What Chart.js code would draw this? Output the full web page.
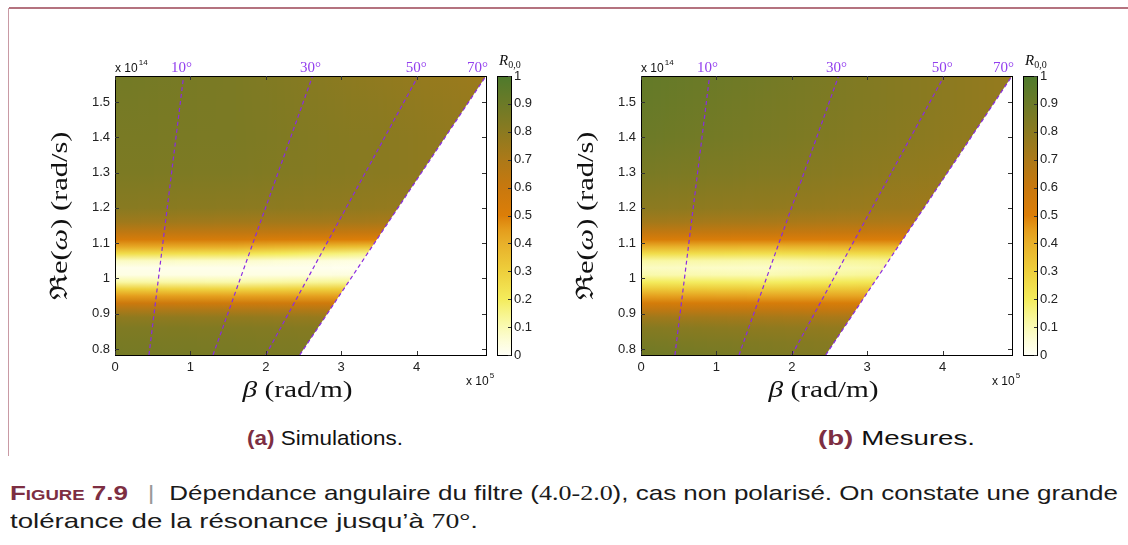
<!DOCTYPE html>
<html>
<head>
<meta charset="utf-8">
<script src="https://cdn.jsdelivr.net/npm/chart.js@4.4.1/dist/chart.umd.min.js"></script>
<style>
  body { margin: 0; background: #fff; width: 1128px; height: 545px; position: relative; overflow: hidden;
         font-family: 'Liberation Sans', Arial, sans-serif; }
  #frameTop { position: absolute; left: 9px; top: 7px; width: 1119px; height: 2px; background: #b4737f; }
  #frameLeft { position: absolute; left: 8px; top: 8px; width: 1px; height: 448px; background: #c99aa4; }
  canvas { position: absolute; top: 0; }
  #panelA { left: 0; }
  #panelB { left: 526px; }
  .sub { position: absolute; top: 427px; font-size: 21px; line-height: 21px; color: #111; white-space: nowrap; transform-origin: 0 0; }
  .sub b { color: #7d2e42; margin-right: 6px; }
  .cap { position: absolute; left: 10px; font-size: 21px; line-height: 21px; color: #1a1a1a; white-space: nowrap; transform-origin: 0 0; }
  .fig { color: #7d2e42; font-weight: bold; font-variant: small-caps; }
  .bar { color: #999; margin: 0 12px 0 16px; }
  .serif { font-family: 'Liberation Serif', 'DejaVu Serif', serif; }
</style>
</head>
<body>
<div id="frameTop"></div>
<div id="frameLeft"></div>
<canvas id="panelA" width="560" height="410"></canvas>
<canvas id="panelB" width="560" height="410"></canvas>
<div class="sub" style="left:247px" data-w="156"><b>(a)</b>Simulations.</div>
<div class="sub" style="left:818px" data-w="157"><b>(b)</b>Mesures.</div>
<div class="cap" style="top:482px" data-w="1108"><span class="fig">Figure 7.9</span><span class="bar">|</span>Dépendance angulaire du filtre (<span class="serif">4.0-2.0</span>), cas non polarisé. On constate une grande</div>
<div class="cap" style="top:510px" data-w="468">tolérance de la résonance jusqu’à <span class="serif">70°</span>.</div>
<script>
// axes
const betaMin = 0, betaMax = 4.92;       // x 10^5 rad/m
const omegaMin = 0.783, omegaMax = 1.574; // x 10^14 rad/s
const betaTicks = [0, 1, 2, 3, 4];
const omegaTicks = [0.8, 0.9, 1, 1.1, 1.2, 1.3, 1.4, 1.5];
const cbTicks = [0, 0.1, 0.2, 0.3, 0.4, 0.5, 0.6, 0.7, 0.8, 0.9, 1];

// iso-angle lines (beta at bottom and top of the plot)
const angleLabels = ['10°', '30°', '50°', '70°'];
const lineBottomBeta = [0.45, 1.30, 2.00, 2.45];
const lineTopBeta = [0.91, 2.62, 4.02, 4.92];

// R0,0 field, sampled on omegaRows (one list per beta column)
const betaCols = [0, 1.6, 3.3, 4.92];
const omegaRows = [0.783, 0.82, 0.86, 0.89, 0.91, 0.93, 0.95, 0.97, 0.99, 1.01, 1.03,
                   1.05, 1.07, 1.09, 1.11, 1.13, 1.16, 1.2, 1.3, 1.4, 1.5, 1.574];
const simField = [
  [0.87, 0.86, 0.84, 0.79, 0.70, 0.58, 0.45, 0.30, 0.12, 0.03, 0.02, 0.08, 0.25, 0.42, 0.53, 0.63, 0.74, 0.81, 0.85, 0.86, 0.87, 0.88],
  [0.86, 0.85, 0.83, 0.78, 0.69, 0.57, 0.44, 0.28, 0.11, 0.03, 0.02, 0.07, 0.23, 0.41, 0.53, 0.63, 0.73, 0.80, 0.84, 0.85, 0.85, 0.85],
  [0.84, 0.83, 0.81, 0.76, 0.68, 0.56, 0.44, 0.30, 0.14, 0.04, 0.01, 0.03, 0.15, 0.35, 0.50, 0.61, 0.72, 0.78, 0.81, 0.81, 0.80, 0.79],
  [0.82, 0.81, 0.79, 0.74, 0.66, 0.55, 0.43, 0.30, 0.15, 0.05, 0.02, 0.03, 0.14, 0.33, 0.48, 0.59, 0.69, 0.75, 0.77, 0.77, 0.76, 0.75]
];
const mesField = [
  [0.89, 0.86, 0.82, 0.74, 0.64, 0.54, 0.44, 0.32, 0.20, 0.11, 0.08, 0.12, 0.25, 0.40, 0.52, 0.62, 0.73, 0.80, 0.86, 0.90, 0.92, 0.93],
  [0.85, 0.83, 0.79, 0.72, 0.63, 0.53, 0.43, 0.31, 0.19, 0.10, 0.07, 0.11, 0.24, 0.39, 0.51, 0.61, 0.71, 0.78, 0.83, 0.86, 0.87, 0.88],
  [0.81, 0.80, 0.77, 0.70, 0.61, 0.52, 0.43, 0.33, 0.22, 0.14, 0.11, 0.14, 0.26, 0.40, 0.51, 0.60, 0.69, 0.75, 0.79, 0.81, 0.82, 0.82],
  [0.78, 0.77, 0.74, 0.68, 0.60, 0.51, 0.42, 0.33, 0.23, 0.16, 0.13, 0.15, 0.26, 0.39, 0.49, 0.58, 0.66, 0.72, 0.75, 0.77, 0.77, 0.77]
];

// colormap
const cmapVals = [0, 0.05, 0.1, 0.15, 0.2, 0.3, 0.4, 0.45, 0.5, 0.6, 0.7, 0.8, 0.9, 1];
const cmapColors = ['#fffff6', '#fdfdd8', '#fafab4', '#f7f48a', '#f4ec5c', '#eecf3c', '#e8b02a',
                    '#e49c1c', '#dc7e08', '#c8780e', '#ac7918', '#8b7a20', '#6c7a27', '#4e7a2c'];

const purple = '#8a2be2';
const sans = "'Liberation Sans', Arial, sans-serif";
const serif = "'Liberation Serif', 'DejaVu Serif', serif";

function hexRgb(h) {
  return [1, 3, 5].map(i => parseInt(h.substr(i, 2), 16));
}
const cmapRgb = cmapColors.map(hexRgb);

function cmap(v) {
  v = Math.max(0, Math.min(1, v));
  let k = 0;
  while (k < cmapVals.length - 2 && v > cmapVals[k + 1]) k++;
  const t = (v - cmapVals[k]) / (cmapVals[k + 1] - cmapVals[k]);
  const a = cmapRgb[k], b = cmapRgb[k + 1];
  return `rgb(${a.map((c, i) => Math.round(c + (b[i] - c) * t)).join(',')})`;
}

// pieces of text [str, font], centred on x and stretched to a given width
// (the original uses a wider serif face)
function fitText(ctx, parts, x, y, width) {
  let total = 0;
  const ws = parts.map(([s, f]) => { ctx.font = f; const w = ctx.measureText(s).width; total += w; return w; });
  ctx.save();
  ctx.translate(x, y);
  ctx.scale(width / total, 1);
  ctx.textAlign = 'left';
  let px = -total / 2;
  parts.forEach(([s, f], i) => { ctx.font = f; ctx.fillText(s, px, 0); px += ws[i]; });
  ctx.restore();
}

const heatPlugin = {
  id: 'heat',
  beforeDatasetsDraw(chart, args, opts) {
    const { ctx, chartArea: a, scales: { x, y } } = chart;
    const field = opts.field;
    const last = lineTopBeta.length - 1;
    ctx.save();
    ctx.beginPath();
    ctx.moveTo(x.getPixelForValue(betaMin), y.getPixelForValue(omegaMin));
    ctx.lineTo(x.getPixelForValue(lineBottomBeta[last]), y.getPixelForValue(omegaMin));
    ctx.lineTo(x.getPixelForValue(lineTopBeta[last]), y.getPixelForValue(omegaMax));
    ctx.lineTo(x.getPixelForValue(betaMin), y.getPixelForValue(omegaMax));
    ctx.closePath();
    ctx.clip();
    const y0 = y.getPixelForValue(omegaRows[0]);
    const y1 = y.getPixelForValue(omegaRows[omegaRows.length - 1]);
    for (let px = Math.floor(a.left); px < a.right; px++) {
      const b = x.getValueForPixel(px + 0.5);
      let j = 0;
      while (j < betaCols.length - 2 && b > betaCols[j + 1]) j++;
      const t = Math.max(0, Math.min(1, (b - betaCols[j]) / (betaCols[j + 1] - betaCols[j])));
      const g = ctx.createLinearGradient(0, y0, 0, y1);
      omegaRows.forEach((w, i) => {
        const v = field[j][i] * (1 - t) + field[j + 1][i] * t;
        g.addColorStop((y.getPixelForValue(w) - y0) / (y1 - y0), cmap(v));
      });
      ctx.fillStyle = g;
      ctx.fillRect(px, a.top, 1, a.bottom - a.top);
    }
    ctx.restore();
  },
  afterDraw(chart) {
    const { ctx, chartArea: a, scales: { x, y, cb } } = chart;
    ctx.save();
    // plot frame + inward ticks
    ctx.strokeStyle = '#000';
    ctx.lineWidth = 1;
    ctx.strokeRect(Math.round(a.left) + 0.5, Math.round(a.top) + 0.5, Math.round(a.right - a.left), Math.round(a.bottom - a.top));
    ctx.strokeStyle = '#333';
    ctx.beginPath();
    betaTicks.forEach(v => {
      const px = Math.round(x.getPixelForValue(v)) + 0.5;
      ctx.moveTo(px, a.bottom); ctx.lineTo(px, a.bottom - 4);
      ctx.moveTo(px, a.top); ctx.lineTo(px, a.top + 4);
    });
    omegaTicks.forEach(v => {
      const py = Math.round(y.getPixelForValue(v)) + 0.5;
      ctx.moveTo(a.left, py); ctx.lineTo(a.left + 4, py);
      ctx.moveTo(a.right, py); ctx.lineTo(a.right - 4, py);
    });
    ctx.stroke();

    // colorbar
    const cx = Math.round(a.right) + 11, cw = 14;
    const cTop = cb.getPixelForValue(1), cBot = cb.getPixelForValue(0);
    const g = ctx.createLinearGradient(0, cBot, 0, cTop);
    cmapVals.forEach((v, i) => g.addColorStop(v, cmapColors[i]));
    ctx.fillStyle = g;
    ctx.fillRect(cx, cTop, cw, cBot - cTop);
    ctx.strokeStyle = '#000';
    ctx.strokeRect(cx + 0.5, Math.round(cTop) + 0.5, cw, Math.round(cBot - cTop));
    ctx.strokeStyle = '#333';
    ctx.beginPath();
    cbTicks.forEach(v => {
      const py = Math.round(cb.getPixelForValue(v)) + 0.5;
      ctx.moveTo(cx + cw, py); ctx.lineTo(cx + cw - 3, py);
    });
    ctx.stroke();

    // colorbar title R_{0,0}
    ctx.fillStyle = '#111';
    ctx.textBaseline = 'alphabetic';
    ctx.textAlign = 'left';
    ctx.font = `italic 15px ${serif}`;
    ctx.fillText('R', cx + 2, a.top - 11);
    const rw = ctx.measureText('R').width;
    ctx.font = `10px ${serif}`;
    ctx.fillText('0,0', cx + 2 + rw, a.top - 8);

    // exponents
    ctx.font = `12px ${sans}`;
    ctx.fillText('x 10', a.left, a.top - 4);
    let w = ctx.measureText('x 10').width;
    ctx.font = `8px ${sans}`;
    ctx.fillText('14', a.left + w + 1, a.top - 11);
    ctx.font = `12px ${sans}`;
    ctx.fillText('x 10', a.right - 20, a.bottom + 30);
    w = ctx.measureText('x 10').width;
    ctx.font = `8px ${sans}`;
    ctx.fillText('5', a.right - 20 + w + 1, a.bottom + 23);

    // angle labels
    ctx.fillStyle = '#9340ee';
    ctx.font = `15px ${serif}`;
    ctx.textAlign = 'center';
    angleLabels.forEach((lab, i) => {
      const lw = ctx.measureText(lab).width;
      let px = x.getPixelForValue(lineTopBeta[i]) - 2;
      px = Math.min(px, a.right + 2 - lw / 2);
      ctx.fillText(lab, px, a.top - 4);
    });

    // axis titles
    ctx.fillStyle = '#111';
    const up = `24px ${serif}`, it = `italic 24px ${serif}`;
    fitText(ctx, [['β', it], [' (rad/m)', up]], (a.left + a.right) / 2 - 3, a.bottom + 42, 110);
    ctx.translate(a.left - 48, (a.top + a.bottom) / 2);
    ctx.rotate(-Math.PI / 2);
    fitText(ctx, [['ℜe(', up], ['ω', it], [') (rad/s)', up]], 0, 0, 168);
    ctx.restore();
  }
};

function makePanel(id, field) {
  return new Chart(document.getElementById(id), {
    type: 'line',
    data: {
      datasets: angleLabels.map((lab, i) => ({
        label: lab,
        data: [{ x: lineBottomBeta[i], y: omegaMin }, { x: lineTopBeta[i], y: omegaMax }],
        borderColor: purple,
        borderWidth: 1.2,
        borderDash: [4, 3],
        pointRadius: 0,
        fill: false
      }))
    },
    options: {
      responsive: false,
      animation: false,
      layout: { padding: { top: 76, left: 0, right: 0, bottom: 0 } },
      plugins: { legend: { display: false }, tooltip: { enabled: false }, heat: { field } },
      scales: {
        x: {
          type: 'linear', min: betaMin, max: betaMax,
          grid: { display: false, drawTicks: false }, border: { display: false },
          afterBuildTicks: s => { s.ticks = betaTicks.map(v => ({ value: v })); },
          afterFit: s => { s.height = 55; },
          ticks: { padding: 5, color: '#222', font: { size: 13, family: sans }, autoSkip: false, maxRotation: 0,
                   callback: v => String(v) }
        },
        y: {
          type: 'linear', min: omegaMin, max: omegaMax,
          grid: { display: false, drawTicks: false }, border: { display: false },
          afterBuildTicks: s => { s.ticks = omegaTicks.map(v => ({ value: v })); },
          afterFit: s => { s.width = 115; },
          ticks: { padding: 5, color: '#222', font: { size: 13, family: sans }, autoSkip: false,
                   callback: v => String(Math.round(v * 10) / 10) }
        },
        cb: {
          type: 'linear', position: 'right', min: 0, max: 1,
          grid: { display: false, drawTicks: false }, border: { display: false },
          afterBuildTicks: s => { s.ticks = cbTicks.map(v => ({ value: v })); },
          afterFit: s => { s.width = 74; },
          ticks: { padding: 28, color: '#222', font: { size: 13, family: sans }, autoSkip: false,
                   callback: v => String(Math.round(v * 10) / 10) }
        }
      }
    },
    plugins: [heatPlugin]
  });
}

makePanel('panelA', simField);
makePanel('panelB', mesField);

// squeeze caption lines to the reference widths (condensed face in the original)
document.querySelectorAll('[data-w]').forEach(el => {
  const w = el.getBoundingClientRect().width;
  el.style.transform = `scaleX(${el.dataset.w / w})`;
});
</script>
</body>
</html>
